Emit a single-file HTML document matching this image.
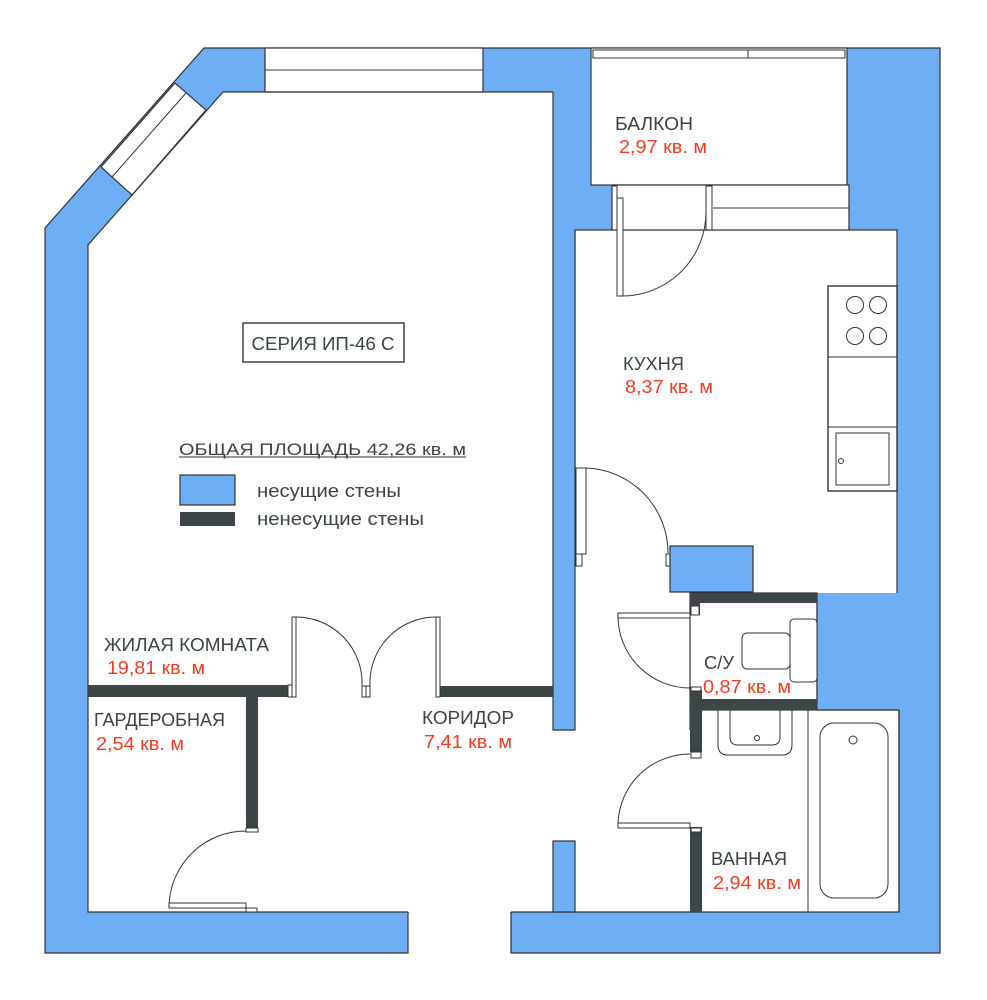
<!DOCTYPE html>
<html><head><meta charset="utf-8"><style>
html,body{margin:0;padding:0;background:#fff;}
svg{display:block;}
text{font-family:"Liberation Sans",sans-serif;}
.l{fill:#3a4444;font-size:18px;}
.r{fill:#f23c22;font-size:18px;}
</style></head><body>
<svg width="987" height="1000" viewBox="0 0 987 1000" xmlns="http://www.w3.org/2000/svg">
<g stroke="#333" stroke-width="1.2">
<polygon points="204,48 940,48 940,953 511,953 511,912 408,912 408,953 45,953 45,228" fill="#6daef5"/>
<polygon points="88,245 223,92 553,92 553,912 88,912" fill="#fff" stroke="none"/>
<rect x="553" y="595" width="137" height="317" fill="#fff" stroke="none"/>
<rect x="575" y="230" width="322" height="365" fill="#fff"/>
<rect x="553" y="560" width="137" height="50" fill="#fff" stroke="none"/>
<rect x="690" y="593" width="127" height="117" fill="#fff"/>
<rect x="690" y="710" width="209" height="202" fill="#fff"/>
<rect x="553" y="730" width="140" height="182" fill="#fff" stroke="none"/>
<rect x="409" y="908" width="101" height="8" fill="#fff" stroke="none"/>
<rect x="591" y="48" width="256" height="137" fill="#fff"/>
<rect x="612" y="185" width="237" height="45" fill="#fff"/>
<rect x="265" y="48" width="218" height="44" fill="#fff"/>
<polygon points="101,167 175,83 206,110 132,195" fill="#fff"/>
<polyline points="408,912 88,912 88,245 223,92 553,92" fill="none"/>
<line x1="511" y1="912" x2="690" y2="912"/>
</g>
<g stroke="#333" stroke-width="1" fill="none">
<line x1="265" y1="70" x2="483" y2="70"/>
<line x1="112" y1="177" x2="186" y2="93"/>
<rect x="593" y="50" width="252" height="8" fill="#fff"/>
<line x1="748" y1="50" x2="748" y2="58"/>
<line x1="713" y1="208" x2="849" y2="208"/>
<rect x="612" y="186" width="5" height="44"/>
<rect x="706" y="186" width="6" height="44"/>
<rect x="617" y="198" width="6" height="98" fill="#fff"/>
<path d="M623,296 A84,84 0 0 0 706,212"/>
<rect x="828" y="286" width="69" height="205" fill="#fff" stroke-width="1.4"/>
<line x1="828" y1="357" x2="897" y2="357"/>
<line x1="828" y1="427" x2="897" y2="427"/>
<rect x="836" y="433" width="53" height="52"/>
<circle cx="841" cy="461" r="2.5"/>
<circle cx="855" cy="305" r="8.5"/><circle cx="878" cy="305" r="8.5"/>
<circle cx="855" cy="336" r="8.5"/><circle cx="878" cy="336" r="8.5"/>
<rect x="576" y="468" width="10" height="86" fill="#fff"/>
<rect x="576" y="554" width="6" height="12" fill="#fff"/>
<path d="M586,468 A85,85 0 0 1 668,553"/>
<rect x="666" y="554" width="4" height="12" fill="#fff"/>
</g>
<g stroke="#333" stroke-width="1.2">
<rect x="553" y="88" width="22" height="642" fill="#6daef5" stroke="none"/>
<polyline points="553,92 553,730 575,730 575,230" fill="none"/>
<rect x="553" y="841" width="22" height="71" fill="#6daef5"/>
<rect x="670" y="546" width="83" height="46" fill="#6daef5"/>
<rect x="817" y="593" width="122" height="117" fill="#6daef5" stroke="none"/>
<line x1="817" y1="593" x2="817" y2="710"/><line x1="817" y1="710" x2="899" y2="710"/>
<line x1="899" y1="710" x2="899" y2="912"/>
</g>
<g fill="#3d4646">
<rect x="690" y="593" width="127" height="10"/>
<rect x="690" y="593" width="10" height="22"/>
<rect x="690" y="699" width="127" height="11"/>
<rect x="690" y="690" width="12" height="62"/>
<rect x="690" y="827" width="12" height="85"/>
<rect x="88" y="685" width="200" height="12"/>
<rect x="246" y="697" width="12" height="131"/>
<rect x="440" y="686" width="113" height="11"/>
<rect x="180" y="512" width="55" height="14"/>
</g>
<g stroke="#333" stroke-width="1" fill="none">
<rect x="691" y="606" width="8" height="9" fill="#fff"/>
<rect x="618" y="613" width="72" height="5" fill="#fff"/>
<path d="M618,616 A72,72 0 0 0 690,688"/>
<rect x="691" y="687" width="10" height="4" fill="#fff"/>
<rect x="790" y="619" width="27" height="63" rx="4" fill="#fff"/>
<rect x="742" y="633" width="48" height="36" rx="5" fill="#fff"/>
<line x1="808" y1="710" x2="808" y2="912"/>
<path d="M718,710 V745 Q718,755 728,755 H782 Q792,755 792,745 V710"/>
<path d="M730,710 V737 Q730,745 738,745 H772 Q780,745 780,737 V710"/>
<circle cx="757" cy="738" r="2.5"/>
<rect x="820" y="723" width="68" height="175" rx="14"/>
<circle cx="853" cy="740" r="4"/>
<rect x="691" y="752" width="10" height="6" fill="#fff"/>
<path d="M618,823 A72,72 0 0 1 690,754"/>
<rect x="618" y="823" width="72" height="5" fill="#fff"/>
<rect x="691" y="828" width="10" height="4" fill="#fff"/>
<rect x="246" y="828" width="12" height="4" fill="#fff"/>
<path d="M169,905 A77,77 0 0 1 246,831"/>
<rect x="169" y="903" width="77" height="5" fill="#fff"/>
<rect x="246" y="908" width="11" height="4" fill="#fff"/>
<rect x="288" y="685" width="4" height="12" fill="#fff"/>
<rect x="292" y="617" width="4" height="80" fill="#fff"/>
<path d="M296,617 A66,66 0 0 1 362,686"/>
<rect x="362" y="686" width="4" height="11" fill="#fff"/>
<rect x="366" y="686" width="4" height="11" fill="#fff"/>
<path d="M370,686 A66,66 0 0 1 436,617"/>
<rect x="436" y="617" width="4" height="80" fill="#fff"/>
<rect x="243" y="323" width="161" height="39" fill="#fff" stroke-width="1.4"/>
<rect x="180" y="475" width="55" height="30" fill="#6daef5" stroke-width="1.2"/>
<line x1="179" y1="457" x2="466" y2="457"/>
</g>
<g>
<text class="l" x="323" y="350" text-anchor="middle" textLength="143" lengthAdjust="spacingAndGlyphs">СЕРИЯ ИП-46 С</text>
<text class="l" x="179" y="455" textLength="287" lengthAdjust="spacingAndGlyphs" style="font-size:17px">ОБЩАЯ ПЛОЩАДЬ  42,26 кв. м</text>
<text class="l" x="257" y="497" textLength="144" lengthAdjust="spacingAndGlyphs">несущие стены</text>
<text class="l" x="257" y="525" textLength="167" lengthAdjust="spacingAndGlyphs">ненесущие стены</text>
<text class="l" x="615" y="130" textLength="78" lengthAdjust="spacingAndGlyphs">БАЛКОН</text>
<text class="r" x="619" y="153" textLength="88" lengthAdjust="spacingAndGlyphs">2,97 кв. м</text>
<text class="l" x="623" y="370" textLength="61" lengthAdjust="spacingAndGlyphs">КУХНЯ</text>
<text class="r" x="625" y="393" textLength="88" lengthAdjust="spacingAndGlyphs">8,37 кв. м</text>
<text class="l" x="104" y="651" textLength="165" lengthAdjust="spacingAndGlyphs">ЖИЛАЯ КОМНАТА</text>
<text class="r" x="107" y="674" textLength="98" lengthAdjust="spacingAndGlyphs">19,81 кв. м</text>
<text class="l" x="94" y="726" textLength="131" lengthAdjust="spacingAndGlyphs">ГАРДЕРОБНАЯ</text>
<text class="r" x="96" y="750" textLength="88" lengthAdjust="spacingAndGlyphs">2,54 кв. м</text>
<text class="l" x="422" y="724" textLength="92" lengthAdjust="spacingAndGlyphs">КОРИДОР</text>
<text class="r" x="424" y="748" textLength="88" lengthAdjust="spacingAndGlyphs">7,41 кв. м</text>
<text class="l" x="704" y="669" textLength="30" lengthAdjust="spacingAndGlyphs">С/У</text>
<text class="r" x="703" y="693" textLength="88" lengthAdjust="spacingAndGlyphs">0,87 кв. м</text>
<text class="l" x="711" y="865" textLength="76" lengthAdjust="spacingAndGlyphs">ВАННАЯ</text>
<text class="r" x="713" y="889" textLength="88" lengthAdjust="spacingAndGlyphs">2,94 кв. м</text>
</g>
</svg>
</body></html>
